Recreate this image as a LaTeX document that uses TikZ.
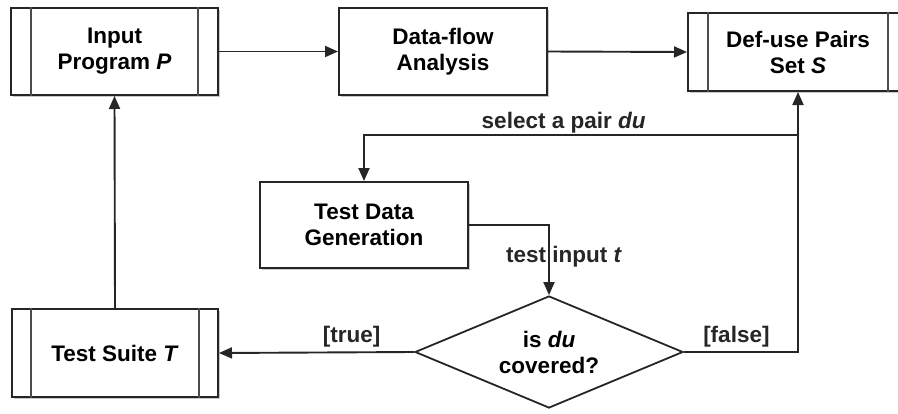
\documentclass[tikz,border=0pt]{standalone}
\usepackage{fontspec}
\setmainfont{Liberation Sans}
\usetikzlibrary{arrows.meta,shapes.geometric,calc,shadows}
\begin{document}
\begin{tikzpicture}[x=1pt,y=-1pt,
  font=\fontsize{22.5}{26}\selectfont\bfseries,
  box/.style={draw=black!85,line width=2pt,fill=white,rectangle,align=center,inner sep=0pt,
    drop shadow={shadow xshift=1.8pt,shadow yshift=-1.8pt,opacity=0.35,fill=black!60}},
  decis/.style={draw=black!85,line width=1.8pt,fill=white,diamond,aspect=2.4,align=center,inner sep=0pt,
    minimum width=268pt,minimum height=112pt},
  conn/.style={draw=black!85,line width=1.9pt,-{Triangle[length=13pt,width=11pt]}},
  inner/.style={draw=black!70,line width=1.6pt},
  lbl/.style={inner sep=1pt,text=black!85}]
\useasboundingbox (0,0) rectangle (898,413);
\clip (0,0) rectangle (898,413);
\fill[white] (0,0) rectangle (898,413);

\node[box,minimum width=207pt,minimum height=87pt] (inp) at (114.5,51.5) {Input\\Program \textit{P}};
\node[box,minimum width=208pt,minimum height=87pt] (dfa) at (443,51.5) {Data-flow\\Analysis};
\node[box,minimum width=220pt,minimum height=78pt] (dus) at (798,52) {Def-use Pairs\\Set \textit{S}};
\node[box,minimum width=208pt,minimum height=86pt] (tdg) at (364,225) {Test Data\\Generation};
\node[decis] (dec) at (549,352) {is \textit{du}\\covered?};
\node[box,minimum width=206pt,minimum height=88pt] (ts) at (115,353) {Test Suite \textit{T}};

% inner bars of predefined-process boxes
\foreach \n/\d in {inp/21,dus/21,ts/20}{
  \draw[inner] ($(\n.north west)+(\d,0)$) -- ($(\n.south west)+(\d,0)$);
  \draw[inner] ($(\n.north east)+(-\d,0)$) -- ($(\n.south east)+(-\d,0)$);
}

\draw[conn] (inp.east) -- (dfa.west);
\draw[conn] (dfa.east) -- (dus.west);
\coordinate (sp) at (798,135);
\draw[conn] (sp) -| node[lbl,pos=0.27,anchor=south] (lsel) {select a pair \textit{du}} (tdg.north);
\draw[conn] (tdg.east) -| (dec.north);
\node[lbl,anchor=west] (lti) at (505,257) {test input \textit{t}};
\draw[conn] (dec.west) -- node[lbl,anchor=south,pos=0.32,yshift=3pt] (ltrue) {[true]} (ts.east);
\draw[conn] (dec.east) -| node[lbl,anchor=south,pos=0.23,yshift=3pt] (lfalse) {[false]} (dus.south);
\draw[conn] (ts.north) -- (inp.south);
\end{tikzpicture}
\end{document}
